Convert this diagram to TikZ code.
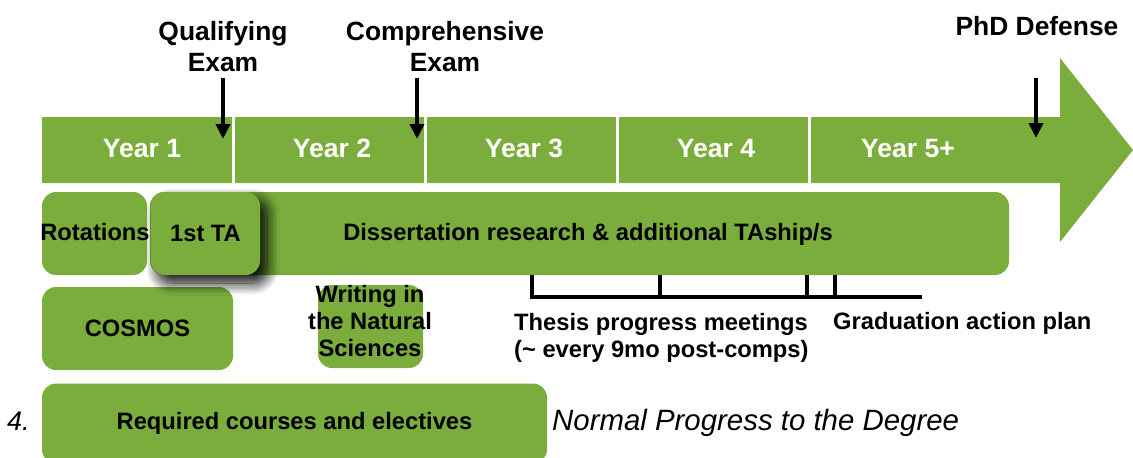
\documentclass[tikz,border=0pt]{standalone}
\usepackage{fontspec}
\setmainfont{Liberation Sans}
\usetikzlibrary{arrows.meta,shadows.blur}
\definecolor{grn}{RGB}{122,173,60}
\begin{document}
\begin{tikzpicture}[x=1pt,y=-1pt,
  box/.style={fill=grn, rounded corners=14pt, inner sep=0pt,
    font=\bfseries\fontsize{23.7}{27}\selectfont},
  lbl/.style={font=\bfseries\fontsize{23.7}{27}\selectfont, inner sep=0pt},
  toplbl/.style={font=\bfseries\fontsize{26.4}{31}\selectfont, inner sep=0pt, align=center},
  yearlbl/.style={font=\bfseries\fontsize{26.5}{30}\selectfont, text=white, inner sep=0pt, anchor=base},
  evarrow/.style={line width=4pt, -{Triangle[width=14pt,length=15pt]}},
  yearsep/.style={draw=white, line width=3pt},
  brk/.style={line width=4pt}
]
\useasboundingbox (0,0) rectangle (1133,458);
\clip (0,0) rectangle (1133,458);

% timeline band with arrow head
\fill[grn] (42,117) -- (1060,117) -- (1060,58) -- (1133,150) -- (1060,242)
  -- (1060,183) -- (42,183) -- cycle;
\foreach \x in {233,425,617,809} \draw[yearsep] (\x,117) -- (\x,183);

\node[yearlbl] (y1) at (142,157) {Year 1};
\node[yearlbl] (y2) at (332,157) {Year 2};
\node[yearlbl] (y3) at (524,157) {Year 3};
\node[yearlbl] (y4) at (716,157) {Year 4};
\node[yearlbl] (y5) at (908,157) {Year 5+};

% milestones
\node[toplbl] (qual) at (223,47) {Qualifying\\Exam};
\node[toplbl] (comp) at (445,47) {Comprehensive\\Exam};
\node[toplbl, anchor=base] (phd) at (1037,35) {PhD Defense};
\coordinate (qa) at (223,78);  \coordinate (qb) at (223,139);
\coordinate (ca) at (417,78);  \coordinate (cb) at (417,139);
\coordinate (pa) at (1036,78); \coordinate (pb) at (1036,138);
\draw[evarrow] (qa) -- (qb);
\draw[evarrow] (ca) -- (cb);
\draw[evarrow] (pa) -- (pb);

% activity boxes
\node[box, minimum width=859pt, minimum height=83pt] (diss) at (579.5,233.5) {};
\node[lbl, anchor=base] (disstxt) at (588,240) {Dissertation research \& additional TAship/s};
\node[box, minimum width=105pt, minimum height=83pt] (rot) at (94.5,233.5) {};
\node[lbl, anchor=base] (rottxt) at (95,240) {Rotations};
\node[box, minimum width=191pt, minimum height=83pt] (cosmos) at (137.5,328.5) {COSMOS};
\node[box, minimum width=109pt, minimum height=83pt,
  blur shadow={shadow xshift=7pt, shadow yshift=-8pt, shadow blur radius=12pt,
    shadow blur steps=16, shadow opacity=100}] (ta) at (205.5,233.5) {1st TA};
\node[box, minimum width=105pt, minimum height=83pt] (wns) at (370.5,326.5) {};
\node[lbl, align=center] (wnstxt) at (370,321) {Writing in\\the Natural\\Sciences};
\node[box, minimum width=505pt, minimum height=80pt] (req) at (294.5,423.5) {Required courses and electives};

% thesis progress bracket
\coordinate (b1) at (532,275); \coordinate (b1d) at (532,297);
\coordinate (b2) at (660,275); \coordinate (b2d) at (660,297);
\coordinate (b3) at (807,275); \coordinate (b3d) at (807,297);
\coordinate (b4) at (835,275); \coordinate (b4d) at (835,297);
\coordinate (bend) at (922,297);
\draw[brk] (b1) -- (b1d) -- (bend);
\draw[brk] (b2) -- (b2d);
\draw[brk] (b3) -- (b3d);
\draw[brk] (b4) -- (b4d);

\node[lbl, align=left, anchor=north west] (tpm) at (514,313)
  {Thesis progress meetings\\(\char`\~{} every 9mo post-comps)};
\node[lbl, anchor=base west] (gap) at (833,329) {Graduation action plan};

% bottom caption
\node[inner sep=0pt, anchor=base west, font=\itshape\fontsize{27}{30}\selectfont] (num) at (7,430) {4.};
\node[inner sep=0pt, anchor=base west, font=\itshape\fontsize{29.4}{32}\selectfont] (npd) at (552,430) {Normal Progress to the Degree};
\end{tikzpicture}
\end{document}
